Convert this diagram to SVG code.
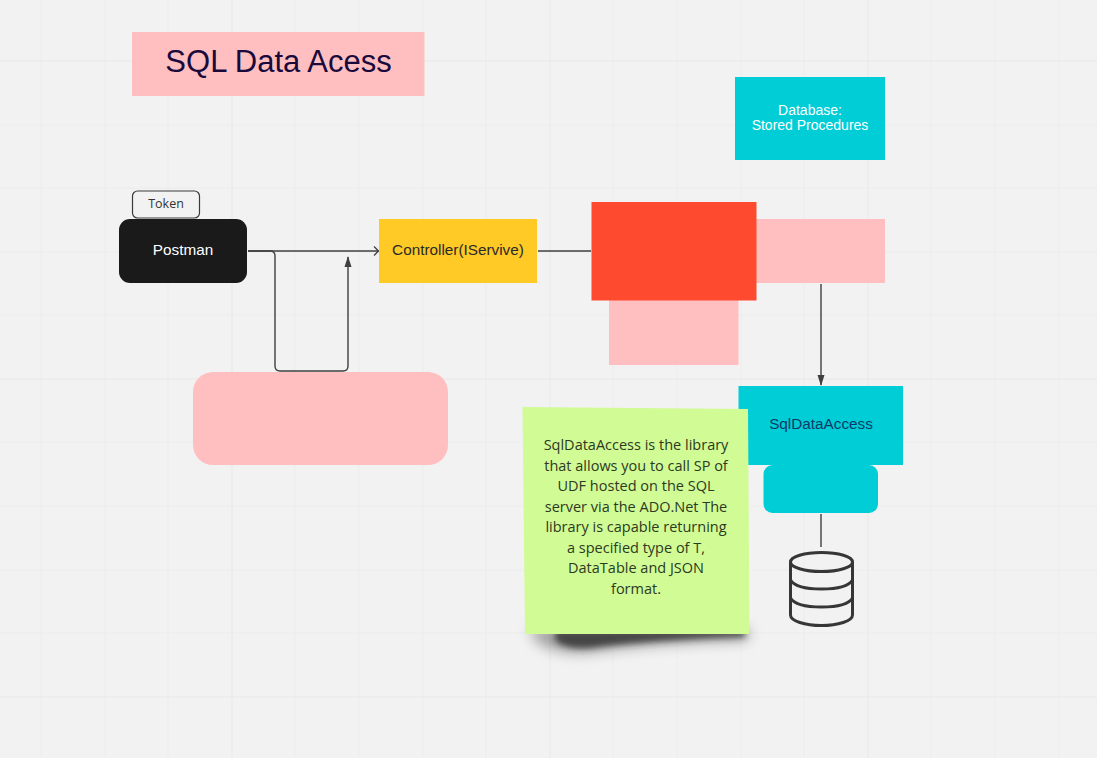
<svg xmlns="http://www.w3.org/2000/svg" width="1097" height="758" viewBox="0 0 1097 758">
<style>
.minor{stroke:#ececec;stroke-width:1;fill:none}
.major{stroke:#e8e8e8;stroke-width:1;fill:none}
.pink{fill:#ffbfc1}
.cyan{fill:#00cdd6}
.line{stroke:#3f3f3f;stroke-width:1.4;fill:none}
.arial{font-family:"Liberation Sans",Arial,sans-serif;text-anchor:middle}
.note{font-family:"Open Sans","Noto Sans",sans-serif;font-size:14.500px;fill:#2c3a22;text-anchor:middle}
</style>
<defs>
<marker id="tri" markerWidth="12" markerHeight="12" refX="10" refY="6" orient="auto" markerUnits="userSpaceOnUse" viewBox="0 0 12 12"><path d="M0 2.500L11 6L0 9.500Z" fill="#3f3f3f"/></marker>
<marker id="open" markerWidth="12" markerHeight="12" refX="10" refY="6" orient="auto" markerUnits="userSpaceOnUse" viewBox="0 0 12 12"><path d="M5.500 1.500L10 6L5.500 10.500" fill="none" stroke="#3f3f3f" stroke-width="1.300"/></marker>
<filter id="blur" x="-30%" y="-150%" width="160%" height="400%"><feGaussianBlur stdDeviation="7"/></filter>
<filter id="blur2" x="-30%" y="-150%" width="160%" height="400%"><feGaussianBlur stdDeviation="3"/></filter>
</defs>
<rect width="1097" height="758" fill="#f2f2f2"/>
<g id="grid">
<path class="minor" d="M41 0V758M105 0V758M168 0V758M295 0V758M359 0V758M423 0V758M486 0V758M613 0V758M677 0V758M741 0V758M804 0V758M931 0V758M995 0V758M1059 0V758"/>
<path class="minor" d="M0 125H1097M0 188H1097M0 252H1097M0 315H1097M0 442H1097M0 506H1097M0 570H1097M0 633H1097"/>
<path class="major" d="M232 0V758M550 0V758M868 0V758M0 61H1097M0 379H1097M0 697H1097"/>
</g>
<g id="connectors">
<path class="line" marker-end="url(#open)" d="M248 251H378.500"/>
<path class="line" marker-end="url(#tri)" d="M248 251H270Q275 251 275 256V366Q275 371 280 371H343Q348 371 348 366V257"/>
<path class="line" d="M538 251H591"/>
<path class="line" marker-end="url(#tri)" d="M821 284V385"/>
<path class="line" d="M821 514V547"/>
</g>
<g id="title"><rect class="pink" x="132" y="32" width="292.500" height="64"/><text class="arial" x="278.500" y="72" font-size="31" fill="#1a0a3c">SQL Data Acess</text></g>
<g id="database"><rect class="cyan" x="735" y="77" width="150" height="83"/><text class="arial" x="810" y="115" font-size="14" fill="#fff">Database:</text><text class="arial" x="810" y="130" font-size="14" fill="#fff">Stored Procedures</text></g>
<g id="token"><rect x="132.500" y="191" width="67" height="27" rx="5" fill="#f2f2f2" stroke="#3a3a3a" stroke-width="1.200"/><text x="166" y="208" font-size="12.500" fill="#333" text-anchor="middle" font-family="Open Sans,sans-serif">Token</text></g>
<g id="postman"><rect x="119" y="219" width="128" height="64" rx="11" fill="#1a1a1a"/><text class="arial" x="183" y="255" font-size="15.300" fill="#fff">Postman</text></g>
<g id="controller"><rect x="379" y="219" width="158" height="64" fill="#ffc926"/><text class="arial" x="458" y="255" font-size="15.300" fill="#2a2a2a">Controller(IServive)</text></g>
<g id="pink-right"><rect class="pink" x="756" y="219" width="129" height="64"/></g>
<g id="pink-bottom"><rect class="pink" x="609" y="300" width="129.500" height="65"/></g>
<g id="red"><rect x="591.500" y="202" width="165" height="98.500" fill="#fe4a2f"/></g>
<g id="pink-rounded"><rect class="pink" x="193" y="372" width="255" height="93" rx="20"/></g>
<g id="sqldataaccess"><rect class="cyan" x="738.500" y="386" width="164.500" height="79"/><text class="arial" x="821" y="429" font-size="15.300" fill="#0d3a68">SqlDataAccess</text></g>
<g id="cyan-rounded"><rect class="cyan" x="763.500" y="465" width="114.500" height="48" rx="9"/></g>
<g id="note">
<path d="M530 628H748V640Q660 642 590 652Q555 655 535 640Z" fill="#6e6e6e" opacity=".65" filter="url(#blur)"/>
<path d="M555 630H745V637Q650 640 590 648Q565 650 555 640Z" fill="#2e2e2e" opacity=".8" filter="url(#blur2)"/>
<polygon points="522.500,407 748,409 749.500,634 525,634" fill="#d1fb95"/>
<text class="note" x="636" y="450">SqlDataAccess is the library</text>
<text class="note" x="636" y="470.500">that allows you to call SP of</text>
<text class="note" x="636" y="491">UDF hosted on the SQL</text>
<text class="note" x="636" y="512">server via the ADO.Net The</text>
<text class="note" x="636" y="532">library is capable returning</text>
<text class="note" x="636" y="553">a specified type of T,</text>
<text class="note" x="636" y="573">DataTable and JSON</text>
<text class="note" x="636" y="594">format.</text>
</g>
<g id="cylinder" fill="none" stroke="#363636" stroke-width="3">
<ellipse cx="821.500" cy="562" rx="31" ry="9.500"/>
<path d="M790.500 562V615C790.500 621 805 625.500 821.500 625.500S852.500 621 852.500 615V562"/>
<path d="M790.500 580C794 586 806 589 821.500 589S849 586 852.500 580"/>
<path d="M790.500 598C794 604 806 607 821.500 607S849 604 852.500 598"/>
</g>
</svg>
